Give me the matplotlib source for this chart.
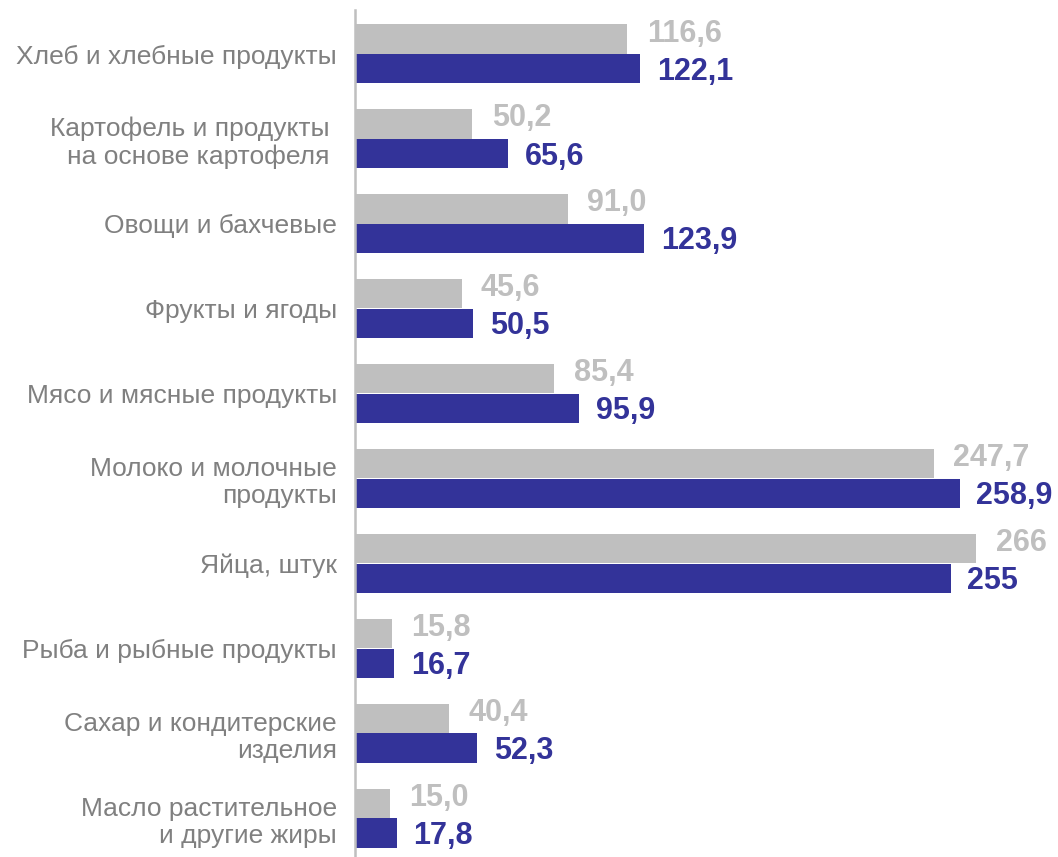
import matplotlib
matplotlib.use("Agg")
import matplotlib.pyplot as plt
import numpy as np

# данные
categories = [
    "Хлеб и хлебные продукты",
    "Картофель и продукты \nна основе картофеля ",
    "Овощи и бахчевые",
    "Фрукты и ягоды",
    "Мясо и мясные продукты",
    "Молоко и молочные\nпродукты",
    "Яйца, штук",
    "Рыба и рыбные продукты",
    "Сахар и кондитерские\nизделия",
    "Масло растительное\nи другие жиры",
]
values_gray = [116.6, 50.2, 91.0, 45.6, 85.4, 247.7, 266, 15.8, 40.4, 15.0]
values_blue = [122.1, 65.6, 123.9, 50.5, 95.9, 258.9, 255, 16.7, 52.3, 17.8]
labels_gray = ["116,6", "50,2", "91,0", "45,6", "85,4", "247,7", "266", "15,8", "40,4", "15,0"]
labels_blue = ["122,1", "65,6", "123,9", "50,5", "95,9", "258,9", "255", "16,7", "52,3", "17,8"]

gray = "#BFBFBF"
blue = "#333399"
text_gray = "#808080"

plt.rcParams["font.family"] = ["Liberation Sans", "DejaVu Sans"]

fig = plt.figure(figsize=(10.58, 8.57), dpi=100)
ax = fig.add_axes([355 / 1058, 0, 1 - 355 / 1058, 1 - 10 / 857])

y = np.arange(len(categories))
h = 0.345
ax.barh(y - 0.175, values_gray, height=h, color=gray)
ax.barh(y + 0.175, values_blue, height=h, color=blue)

for yi, v, s in zip(y, values_gray, labels_gray):
    ax.annotate(s, (v, yi - 0.175), xytext=(14, 4), textcoords="offset points",
                ha="left", va="center", fontsize=22, fontweight="bold", color=gray)
for yi, v, s in zip(y, values_blue, labels_blue):
    ax.annotate(s, (v, yi + 0.175), xytext=(12, -2), textcoords="offset points",
                ha="left", va="center", fontsize=22, fontweight="bold", color=blue)

ax.set_xlim(0, 301)
ax.set_ylim(9.458, -0.518)
ax.set_yticks(y)
ax.set_yticklabels(categories, fontsize=19, color=text_gray, linespacing=1.16)
ax.tick_params(axis="y", length=0, pad=13)
ax.set_xticks([])
for side in ["top", "right", "bottom"]:
    ax.spines[side].set_visible(False)
ax.spines["left"].set_color(gray)
ax.spines["left"].set_linewidth(1.8)
ax.patch.set_alpha(0)

fig.savefig("out.png", dpi=100)
